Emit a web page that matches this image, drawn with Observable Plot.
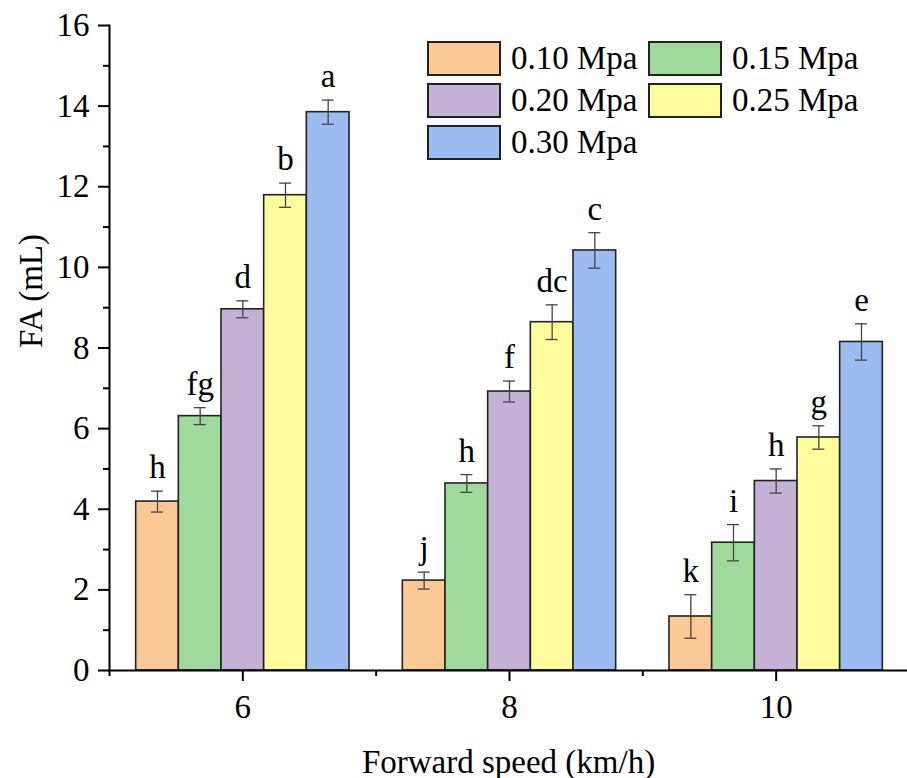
<!DOCTYPE html>
<html>
<head>
<meta charset="utf-8">
<script src="https://cdn.jsdelivr.net/npm/d3@7"></script>
<script src="https://cdn.jsdelivr.net/npm/@observablehq/plot@0.6"></script>
<style>
  html, body { margin: 0; padding: 0; background: #fff; }
  #wrap { position: relative; width: 907px; height: 778px; font-family: "Liberation Serif", "Times New Roman", serif; }
  #legend { position: absolute; left: 427px; top: 40px; display: grid; grid-template-columns: 221px 235px; row-gap: 6px; }
  .item { display: flex; align-items: center; height: 36px; font-size: 33px; color: #000; white-space: nowrap; }
  .sw { width: 74px; height: 35px; border: 2px solid #222; box-sizing: border-box; margin-right: 10px; flex: none; }
</style>
</head>
<body>
<div id="wrap"><div id="legend"></div></div>
<script>
const speeds = [6, 8, 10];
const pressures = ["0.10 Mpa", "0.15 Mpa", "0.20 Mpa", "0.25 Mpa", "0.30 Mpa"];
const colors = ["#FBC896", "#9FD99C", "#C4B1D6", "#FFFC9D", "#9CBBF1"];
// FA (mL) per speed, one value per pressure
const fa6  = [4.19, 6.31, 8.96, 11.79, 13.85];
const fa8  = [2.23, 4.64, 6.92, 8.64, 10.42];
const fa10 = [1.34, 3.17, 4.70, 5.78, 8.15];
const err6  = [0.26, 0.21, 0.21, 0.30, 0.30];
const err8  = [0.21, 0.22, 0.26, 0.43, 0.44];
const err10 = [0.54, 0.45, 0.30, 0.29, 0.45];
const sig6  = ["h", "fg", "d", "b", "a"];
const sig8  = ["j", "h", "f", "dc", "c"];
const sig10 = ["k", "i", "h", "g", "e"];
const yTicks = [0, 2, 4, 6, 8, 10, 12, 14, 16];
const yMinor = [1, 3, 5, 7, 9, 11, 13, 15];
const xMinor = [5, 7, 9, 11];

const barW = 0.32;
const capHalf = 0.045;
const vals = [fa6, fa8, fa10], errs = [err6, err8, err10], sigs = [sig6, sig8, sig10];
const data = [];
speeds.forEach((s, i) => {
  pressures.forEach((p, j) => {
    const pos = s + (j - 2) * barW;
    data.push({speed: s, pressure: p, pos, x1: pos - barW / 2, x2: pos + barW / 2,
      fa: vals[i][j], err: errs[i][j], lo: vals[i][j] - errs[i][j], hi: vals[i][j] + errs[i][j],
      c1: pos - capHalf, c2: pos + capHalf, sig: sigs[i][j]});
  });
});

const chart = Plot.plot({
  width: 907,
  height: 778,
  marginLeft: 109,
  marginRight: 0,
  marginTop: 25,
  marginBottom: 108,
  style: {fontFamily: "Liberation Serif, Times New Roman, serif", fontSize: "33px", background: "transparent", color: "#000"},
  x: {type: "linear", domain: [5, 11], range: [109, 909]},
  y: {domain: [0, 16]},
  color: {domain: pressures, range: colors},
  marks: [
    Plot.rectY(data, {x1: "x1", x2: "x2", y1: 0, y2: "fa", fill: "pressure", stroke: "#222", strokeWidth: 1.6}),
    Plot.ruleX(data, {x: "pos", y1: "lo", y2: "hi", stroke: "#444", strokeWidth: 1.3}),
    Plot.ruleY(data, {x1: "c1", x2: "c2", y: "lo", stroke: "#444", strokeWidth: 1.3}),
    Plot.ruleY(data, {x1: "c1", x2: "c2", y: "hi", stroke: "#444", strokeWidth: 1.3}),
    Plot.text(data, {x: "pos", y: "hi", text: "sig", lineAnchor: "bottom", dy: -13, fontSize: 33, fill: "#000"}),
    Plot.axisY({ticks: yTicks, tickSize: 11, tickPadding: 9, strokeWidth: 2, label: null, tickFormat: d => String(d)}),
    Plot.axisY({ticks: yMinor, tickSize: 6, strokeWidth: 2, label: null, tickFormat: () => ""}),
    Plot.axisX({ticks: speeds, tickSize: 11, tickPadding: 13, strokeWidth: 2, label: null, tickFormat: d => String(d)}),
    Plot.axisX({ticks: xMinor, tickSize: 6, strokeWidth: 2, label: null, tickFormat: () => ""}),
    Plot.frame({anchor: "left", stroke: "#000", strokeWidth: 2}),
    Plot.frame({anchor: "bottom", stroke: "#000", strokeWidth: 2}),
    Plot.text(["Forward speed (km/h)"], {frameAnchor: "bottom", dy: 102, fontSize: 33, fill: "#000"}),
    Plot.text(["FA (mL)"], {frameAnchor: "left", rotate: -90, dx: -78, fontSize: 33, fill: "#000"})
  ]
});
const wrap = document.getElementById("wrap");
wrap.insertBefore(chart, wrap.firstChild);

const legend = document.getElementById("legend");
pressures.forEach((p, i) => {
  const item = document.createElement("div");
  item.className = "item";
  const sw = document.createElement("span");
  sw.className = "sw";
  sw.style.background = colors[i];
  const t = document.createElement("span");
  t.textContent = p;
  item.appendChild(sw);
  item.appendChild(t);
  legend.appendChild(item);
});
</script>
</body>
</html>
